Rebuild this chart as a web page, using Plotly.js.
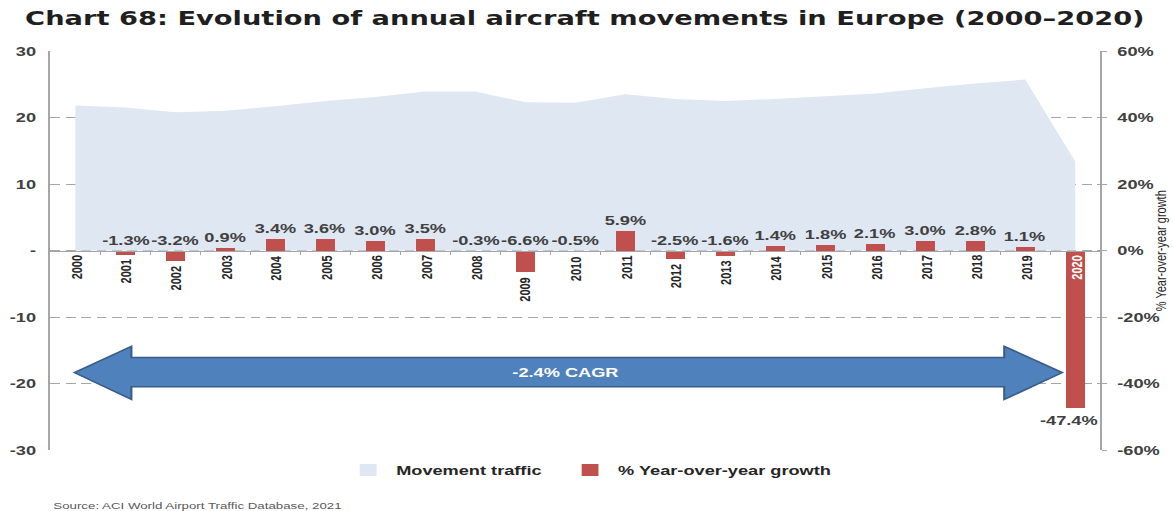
<!DOCTYPE html>
<html>
<head>
<meta charset="utf-8">
<script src="https://cdn.plot.ly/plotly-3.0.1.min.js"></script>
<style>
  html, body { margin: 0; padding: 0; background: #fff; overflow: hidden; }
  #wrap { width: 1173px; height: 511px; overflow: hidden; }
  #chart { width: 838px; height: 511px; transform-origin: 0 0; transform: scaleX(1.39976); }
</style>
</head>
<body>
<div id="wrap"><div id="chart"></div></div>
<script>
// ---- data ----
const years = [2000, 2001, 2002, 2003, 2004, 2005, 2006, 2007, 2008, 2009, 2010,
               2011, 2012, 2013, 2014, 2015, 2016, 2017, 2018, 2019, 2020];
const movementTraffic = [21.8, 21.5, 20.8, 21.0, 21.7, 22.5, 23.1, 23.9, 23.9, 22.3, 22.2,
                         23.5, 22.8, 22.5, 22.8, 23.2, 23.6, 24.4, 25.1, 25.7, 13.4];
const yoyGrowth = [null, -1.3, -3.2, 0.9, 3.4, 3.6, 3.0, 3.5, -0.3, -6.6, -0.5,
                   5.9, -2.5, -1.6, 1.4, 1.8, 2.1, 3.0, 2.8, 1.1, -47.4];
const leftTickVals = [-30, -20, -10, 0, 10, 20, 30];
const leftTickText = ['-30', '-20', '-10', '-', '10', '20', '30'];
const rightTickVals = [-60, -40, -20, 0, 20, 40, 60];
const rightTickText = ['-60%', '-40%', '-20%', '0%', '20%', '40%', '60%'];
const cagrLabel = '-2.4% CAGR';
const titleText = 'Chart 68: Evolution of annual aircraft movements in Europe (2000\u20132020)';
const sourceText = 'Source: ACI World Airport Traffic Database, 2021';
const rightAxisTitle = '% Year-over-year growth';

// ---- styles ----
const AX = '#a6a6a6';
const TXT = '#404040';
const FAM = 'Liberation Sans, Arial, sans-serif';
const LBL = {family: FAM, size: 13, color: TXT, weight: 'bold'};
const AREA = 'rgb(223,231,242)';

const traces = [
  {
    type: 'scatter', x: years, y: movementTraffic, name: 'Movement traffic',
    mode: 'none', fill: 'tozeroy', fillcolor: AREA, yaxis: 'y',
    showlegend: false, hoverinfo: 'skip'
  },
  {
    // legend swatch for the area series (square swatch as in the reference); draws no marks
    type: 'bar', x: years, y: years.map(() => null), name: 'Movement traffic',
    marker: {color: AREA}, showlegend: true, legend: 'legend', hoverinfo: 'skip'
  },
  {
    type: 'bar', x: years, y: yoyGrowth, name: '% Year-over-year growth',
    marker: {color: '#c0504d'}, width: 0.38, yaxis: 'y2', legend: 'legend2', hoverinfo: 'skip'
  }
];

const annotations = [];
years.forEach((yr, i) => {
  const v = yoyGrowth[i];
  const big = v !== null && v < -20;
  annotations.push({
    xref: 'x', yref: 'y2', x: yr, y: (v !== null && v < 0 && !big) ? v : 0,
    text: String(yr), textangle: -90, showarrow: false,
    xanchor: 'center', yanchor: 'top', yshift: -3,
    font: {family: FAM, size: 11, color: big ? '#ffffff' : '#262626', weight: 'bold'}
  });
  if (v === null) return;
  annotations.push({
    xref: 'x', yref: 'y2', x: yr, y: big ? v : Math.max(v, 0),
    text: v.toFixed(1) + '%', showarrow: false,
    xanchor: 'center', yanchor: big ? 'top' : 'bottom', yshift: big ? -3 : 1,
    xshift: big ? -4 : 0,
    font: LBL
  });
});
annotations.push({
  xref: 'x', yref: 'y', x: 2009.8, y: -18.35, text: cagrLabel, showarrow: false,
  font: {family: FAM, size: 13, color: '#ffffff', weight: 'bold'}
});
annotations.push({
  xref: 'paper', yref: 'paper', x: 1.057, y: 0.5, text: rightAxisTitle,
  textangle: -90, showarrow: false, xanchor: 'center', yanchor: 'middle',
  font: {family: FAM, size: 11, color: '#262626'}
});
annotations.push({
  xref: 'paper', yref: 'paper', x: 0, y: -0.138, text: sourceText, showarrow: false,
  xanchor: 'left', yanchor: 'middle',
  font: {family: FAM, size: 9.5, color: '#595959'}
});

const x0 = years[0] - 0.02, x1 = years[years.length - 1] - 0.26;
const xh0 = years[0] + 1.12, xh1 = years[years.length - 1] - 1.42;
const yc = -18.35, yt = -14.4, yb = -22.4, yst = -16.1, ysb = -20.5;
const arrowPath = `M${x0},${yc} L${xh0},${yt} L${xh0},${yst} L${xh1},${yst} L${xh1},${yt} L${x1},${yc} L${xh1},${yb} L${xh1},${ysb} L${xh0},${ysb} L${xh0},${yb} Z`;

const legendFont = {family: FAM, size: 13, color: '#262626', weight: 'bold'};
const layout = {
  width: 838, height: 511,
  margin: {l: 35.7, r: 51.6, t: 51, b: 61, pad: 0},
  paper_bgcolor: '#ffffff', plot_bgcolor: 'rgba(0,0,0,0)',
  showlegend: true,
  title: {
    text: titleText, xref: 'container', x: 0.0214, xanchor: 'left',
    yref: 'container', y: 0.964, yanchor: 'middle',
    font: {family: 'DejaVu Sans, sans-serif', size: 19.5, color: '#1f1f1f', weight: 'bold'}
  },
  xaxis: {
    type: 'linear', range: [1999.5, 2020.5], anchor: 'free', position: 0.5,
    showline: true, linecolor: AX, linewidth: 1.5, showgrid: false, zeroline: false,
    ticks: 'outside', ticklen: 3, tickcolor: AX, tickwidth: 1,
    tickvals: years.slice(0, -1).map(y => y + 0.5), showticklabels: false, fixedrange: true
  },
  yaxis: {
    range: [-30, 30], tickvals: leftTickVals, ticktext: leftTickText,
    showline: true, linecolor: AX, linewidth: 1.6, zeroline: false,
    showgrid: true, gridcolor: AX, griddash: '7px,4px', gridwidth: 1,
    ticks: '', ticklabelstandoff: 6,
    tickfont: {family: FAM, size: 13, color: TXT, weight: 'bold'},
    fixedrange: true
  },
  yaxis2: {
    range: [-60, 60], overlaying: 'y', side: 'right', tickvals: rightTickVals, ticktext: rightTickText,
    showline: true, linecolor: AX, linewidth: 1.6, zeroline: false, showgrid: false,
    ticks: 'outside', ticklen: 3, tickcolor: AX, ticklabelstandoff: 5,
    tickfont: {family: FAM, size: 13, color: TXT, weight: 'bold'},
    fixedrange: true
  },
  legend: {
    orientation: 'h', x: 0.276, xanchor: 'left', y: -0.05, yanchor: 'middle',
    font: legendFont, bgcolor: 'rgba(0,0,0,0)', itemclick: false, itemdoubleclick: false
  },
  legend2: {
    orientation: 'h', x: 0.4874, xanchor: 'left', y: -0.05, yanchor: 'middle',
    font: legendFont, bgcolor: 'rgba(0,0,0,0)', itemclick: false, itemdoubleclick: false
  },
  shapes: [{
    type: 'path', xref: 'x', yref: 'y', path: arrowPath,
    fillcolor: 'rgb(79,129,189)', line: {color: 'rgb(56,93,138)', width: 1.5}, layer: 'above'
  }],
  annotations: annotations,
  bargap: 0
};

Plotly.newPlot('chart', traces, layout, {displayModeBar: false, staticPlot: true});
</script>
</body>
</html>
